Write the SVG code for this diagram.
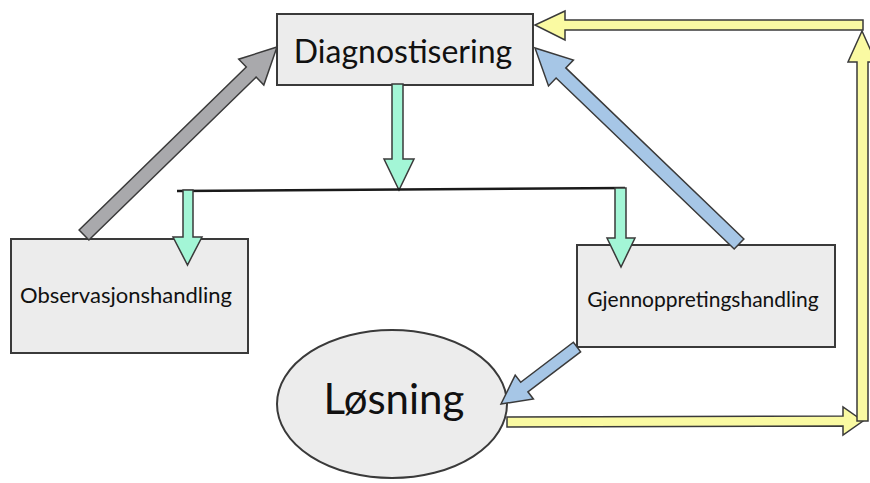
<svg xmlns="http://www.w3.org/2000/svg" width="870" height="483" viewBox="0 0 870 483">
<style>
.box{fill:#ececec;stroke:#3a3a3a;stroke-width:2}
.lbl{font-family:Lato,"Liberation Sans",sans-serif;fill:#111;text-anchor:middle}
.arr{stroke:#3a3a3a;stroke-width:1.5;stroke-linejoin:miter}
.gray{fill:#a9a9ac}
.blue{fill:#a6c6e6}
.green{fill:#a3f6d6}
.yellow{fill:#fafaa2}
</style>
<rect width="870" height="483" fill="#ffffff"/>
<g id="diagnostisering">
  <rect class="box" x="277" y="14" width="256" height="71"/>
  <text class="lbl" x="403" y="63" font-size="32">Diagnostisering</text>
</g>
<g id="observasjonshandling">
  <rect class="box" x="11" y="239" width="237" height="114"/>
  <text class="lbl" x="126" y="303" font-size="22">Observasjonshandling</text>
</g>
<g id="gjennoppretingshandling">
  <rect class="box" x="577" y="245" width="258" height="102"/>
  <text class="lbl" x="703" y="307" font-size="21">Gjennoppretingshandling</text>
</g>
<g id="losning">
  <ellipse class="box" cx="392" cy="404" rx="115" ry="74"/>
  <text class="lbl" x="394" y="414" font-size="42">Løsning</text>
</g>
<g id="connectors">
  <polygon class="arr gray" points="88.9,240 256.1,77.1 263.8,85 277,47 238.7,59.2 246.3,67.1 79.1,230"/>
  <polygon class="arr blue" points="743.9,239 565.8,67.9 573.4,60 535,48 548.5,85.9 556.1,78 734.2,249"/>
  <polygon class="arr blue" points="580.6,351.8 527.9,391.8 533.4,399 501,404 515.2,375.1 520.7,382.3 573.4,342.2"/>
  <polygon class="arr green" points="392,84 403,84 403,159 414,159 399,190 384,159 392,159"/>
  <line x1="177" y1="191" x2="625" y2="188" stroke="#1a1a1a" stroke-width="2.5"/>
  <polygon class="arr green" points="183,190 193,190 193,237 202,237 187.5,265 173,237 183,237"/>
  <polygon class="arr green" points="615,188 626,188 626,238 635,238 621,267 607,238 615,238"/>
  <polygon class="arr yellow" points="507,417 843,416 843,407 863,421 843,435 843,426 507,427"/>
  <polygon class="arr yellow" points="857,421 857,62 848,62 862,31 876,62 868,62 868,421"/>
  <polygon class="arr yellow" points="863,20 565,20 565,11 535,25 565,40 565,30 863,30"/>
</g>
</svg>
